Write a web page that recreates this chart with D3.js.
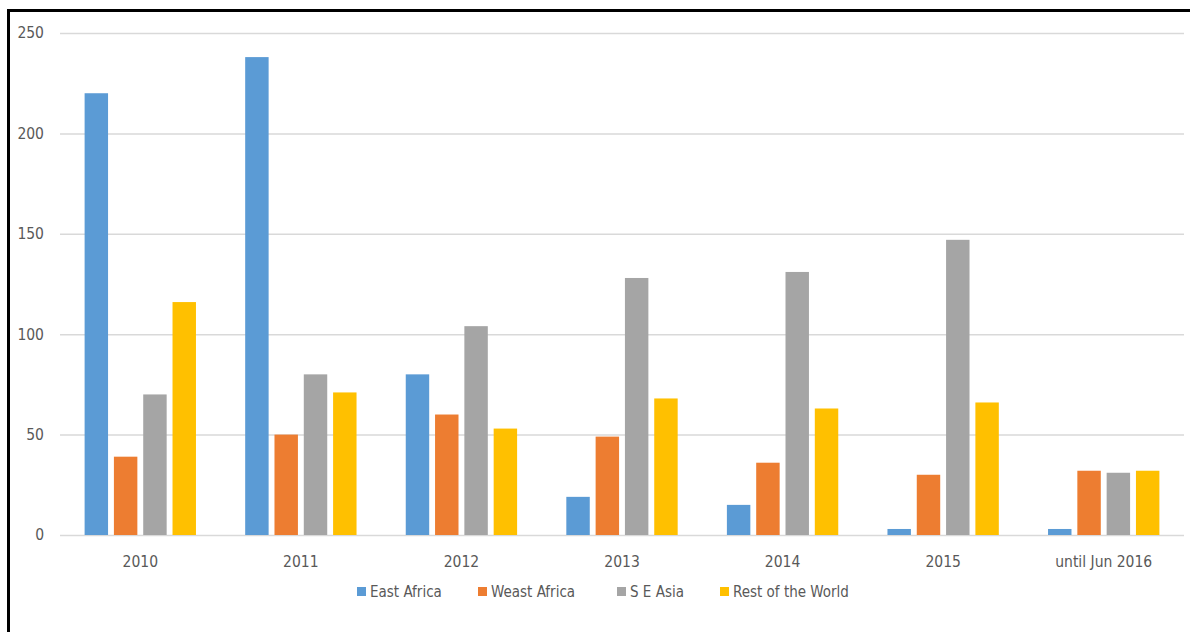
<!DOCTYPE html>
<meta charset="utf-8">
<style>
body { margin: 0; background: #fff; }
text {
  font-family: "Liberation Sans Narrow", "DejaVu Sans Condensed", sans-serif;
  fill: #595959;
}
.axis path { display: none; }
.yaxis line { stroke: #d9d9d9; stroke-width: 1.5; }
.xaxis line { display: none; }
</style>
<svg width="1190" height="632"></svg>
<script src="https://d3js.org/d3.v7.min.js"></script>
<script>

// data
var years = ["2010", "2011", "2012", "2013", "2014", "2015", "until Jun 2016"];
var series = ["East Africa", "Weast Africa", "S E Asia", "Rest of the World"];
var eastAfrica = [220, 238, 80, 19, 15, 3, 3];
var westAfrica = [39, 50, 60, 49, 36, 30, 32];
var seAsia     = [70, 80, 104, 128, 131, 147, 31];
var restWorld  = [116, 71, 53, 68, 63, 66, 32];
var yTicks = [0, 50, 100, 150, 200, 250];

var colors = ["#5b9bd5", "#ed7d31", "#a5a5a5", "#ffc000"];
var values = [eastAfrica, westAfrica, seAsia, restWorld];

var svg = d3.select("svg");

var plotLeft = 60, plotRight = 1184, plotTop = 33, plotBottom = 535;

var x0 = d3.scaleBand()
  .domain(years)
  .range([plotLeft, plotRight])
  .paddingInner(0.27)
  .paddingOuter(0.135);

var x1 = d3.scaleBand()
  .domain(series)
  .range([0, x0.bandwidth()])
  .paddingInner(0.2)
  .paddingOuter(0.1);

var y = d3.scaleLinear()
  .domain([0, 250])
  .range([plotBottom, plotTop]);

var color = d3.scaleOrdinal().domain(series).range(colors);

// gridlines + y labels
var yAxis = svg.append("g")
  .attr("class", "axis yaxis")
  .attr("transform", "translate(" + plotLeft + ",0)")
  .call(d3.axisLeft(y).tickValues(yTicks).tickSize(-(plotRight - plotLeft)).tickPadding(16));
yAxis.selectAll("text").style("font-size", "15.5px");

// bars
var rows = years.map(function(yr, i) {
  return { year: yr, vals: series.map(function(s, j) { return { key: s, value: values[j][i] }; }) };
});

var groups = svg.append("g").selectAll("g")
  .data(rows)
  .join("g")
    .attr("transform", function(d) { return "translate(" + x0(d.year) + ",0)"; });

groups.selectAll("rect")
  .data(function(d) { return d.vals; })
  .join("rect")
    .attr("x", function(d) { return x1(d.key); })
    .attr("y", function(d) { return y(d.value); })
    .attr("width", x1.bandwidth())
    .attr("height", function(d) { return y(0) - y(d.value); })
    .attr("fill", function(d) { return color(d.key); });

// x labels
var xAxis = svg.append("g")
  .attr("class", "axis xaxis")
  .attr("transform", "translate(0," + plotBottom + ")")
  .call(d3.axisBottom(x0).tickSize(0).tickPadding(21));
xAxis.selectAll("text").style("font-size", "15.5px");

// legend (slot offsets as in the original layout)
var legendX = [357, 478, 617, 720];
var legend = svg.append("g").attr("transform", "translate(0,592)");
var item = legend.selectAll("g")
  .data(series)
  .join("g")
    .attr("transform", function(d, i) { return "translate(" + legendX[i] + ",0)"; });
item.append("rect")
  .attr("x", 0).attr("y", -5)
  .attr("width", 9).attr("height", 9)
  .attr("fill", function(d) { return color(d); });
item.append("text")
  .attr("x", 13).attr("y", 0)
  .attr("dy", "0.35em")
  .style("font-size", "15px")
  .text(function(d) { return d; });

// frame
svg.append("rect")
  .attr("x", 8.5).attr("y", 10.5)
  .attr("width", 1300).attr("height", 700)
  .attr("fill", "none")
  .attr("stroke", "#000")
  .attr("stroke-width", 3);

</script>
